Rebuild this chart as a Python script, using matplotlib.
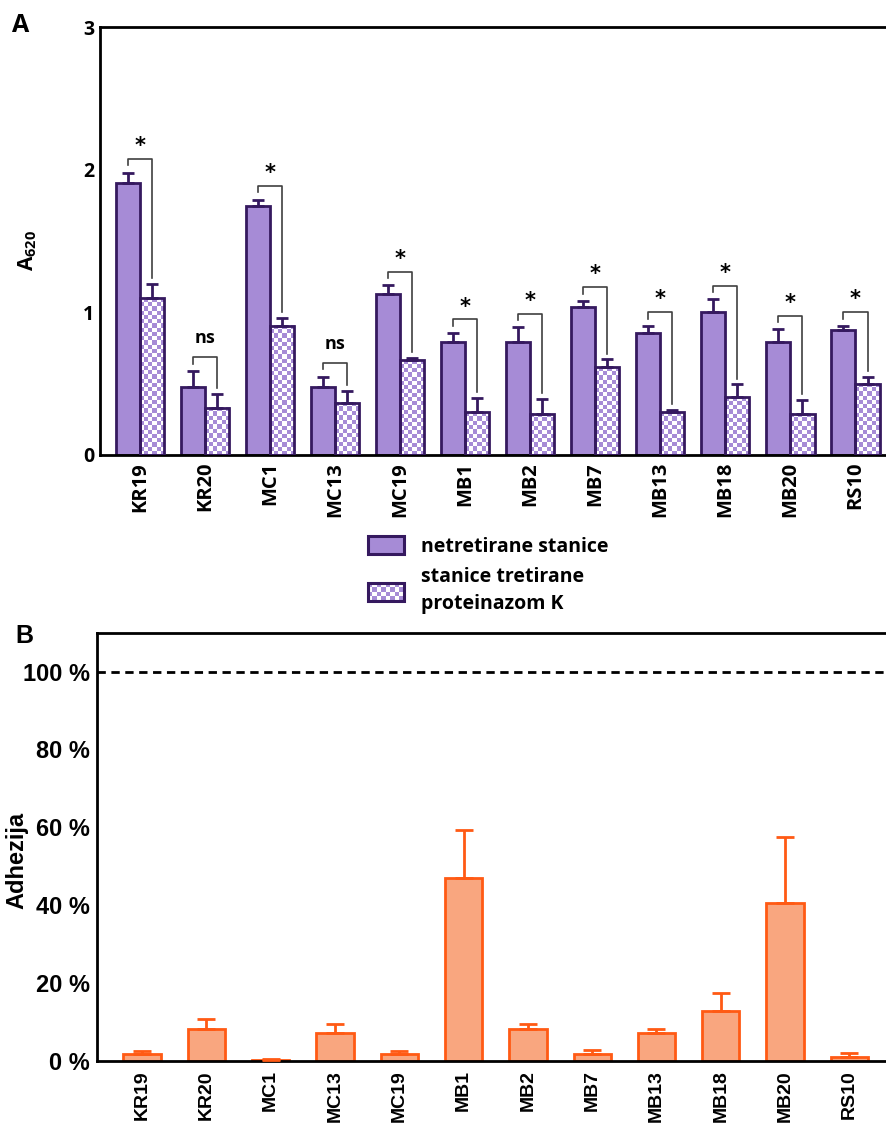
import numpy as np
import matplotlib
matplotlib.use("Agg")
import matplotlib.pyplot as plt
from matplotlib.colors import ListedColormap
from matplotlib.legend_handler import HandlerBase
from matplotlib.patches import Rectangle

# ---------------------------------------------------------------------------
# data
# ---------------------------------------------------------------------------
strains = ["KR19", "KR20", "MC1", "MC13", "MC19", "MB1", "MB2", "MB7",
           "MB13", "MB18", "MB20", "RS10"]

# panel A - A620, untreated vs. proteinase K treated cells (mean, SD)
untreated = [1.91, 0.48, 1.745, 0.475, 1.13, 0.79, 0.795, 1.035, 0.855, 1.0, 0.79, 0.875]
untreated_sd = [0.07, 0.11, 0.045, 0.075, 0.06, 0.065, 0.10, 0.045, 0.05, 0.09, 0.09, 0.03]
treated = [1.10, 0.33, 0.905, 0.365, 0.665, 0.30, 0.29, 0.615, 0.30, 0.405, 0.29, 0.50]
treated_sd = [0.10, 0.10, 0.055, 0.085, 0.015, 0.10, 0.105, 0.055, 0.015, 0.09, 0.095, 0.05]
signif = ["*", "ns", "*", "ns", "*", "*", "*", "*", "*", "*", "*", "*"]

# panel B - remaining adhesion (%)
adhesion = [1.7, 8.1, 0.3, 7.2, 1.7, 46.9, 8.1, 1.6, 7.2, 12.8, 40.5, 1.0]
adhesion_sd = [0.8, 2.6, 0.2, 2.2, 0.9, 12.3, 1.3, 1.2, 0.9, 4.5, 17.1, 1.0]

# ---------------------------------------------------------------------------
# style
# ---------------------------------------------------------------------------
PURPLE_FILL = "#a68bd6"
PURPLE_EDGE = "#35195f"
ORANGE_FILL = "#f9a67f"
ORANGE_EDGE = "#ff5a14"
BRACKET = "#404040"

SANS_A = ["Open Sans", "DejaVu Sans"]
ARIAL = ["Liberation Sans", "DejaVu Sans"]
ARIAL_NARROW = ["Liberation Sans Narrow", "Liberation Sans", "DejaVu Sans"]

plt.rcParams["font.family"] = SANS_A
plt.rcParams["mathtext.fontset"] = "custom"
plt.rcParams["mathtext.rm"] = "Open Sans:bold"
plt.rcParams["mathtext.default"] = "rm"

W, H = 886, 1128
fig = plt.figure(figsize=(W / 100, H / 100), dpi=100)


def fig_box(left, top, right, bottom):
    """pixel box -> figure fraction rect"""
    return [left / W, 1 - bottom / H, (right - left) / W, (bottom - top) / H]


checker_cmap = ListedColormap(["white", PURPLE_FILL])


class HandlerChecker(HandlerBase):
    def create_artists(self, legend, orig_handle, xdescent, ydescent,
                       width, height, fontsize, trans):
        arts = [Rectangle((-xdescent, -ydescent), width, height,
                          facecolor="white", edgecolor="none", transform=trans)]
        nx, ny = 8, 4
        cw, ch = width / nx, height / ny
        for i in range(nx):
            for j in range(ny):
                if (i + j) % 2:
                    arts.append(Rectangle((-xdescent + i * cw, -ydescent + j * ch), cw, ch,
                                          facecolor=PURPLE_FILL, edgecolor="none",
                                          transform=trans))
        arts.append(Rectangle((-xdescent, -ydescent), width, height,
                              facecolor="none", edgecolor=PURPLE_EDGE, lw=2.2,
                              transform=trans))
        return arts


# ---------------------------------------------------------------------------
# panel A
# ---------------------------------------------------------------------------
axA = fig.add_axes(fig_box(100, 27, 888, 455))
x = np.arange(len(strains))
bw = 0.37
xlimA = (-0.615, 11.5)
ylimA = (0, 3)
axA.set_xlim(*xlimA)
axA.set_ylim(*ylimA)

axA.bar(x - bw / 2, untreated, bw, color=PURPLE_FILL, edgecolor=PURPLE_EDGE,
        linewidth=2.0, zorder=2)
hatched = axA.bar(x + bw / 2, treated, bw, color="none", edgecolor=PURPLE_EDGE,
                  linewidth=2.0, zorder=3)

# checkerboard fill for the treated bars (about 4 px squares)
fig.canvas.draw()
to_px = axA.transData.transform
for rect in hatched:
    x0, w, h = rect.get_x(), rect.get_width(), rect.get_height()
    w_px = to_px((w, 0))[0] - to_px((0, 0))[0]
    h_px = to_px((0, h))[1] - to_px((0, 0))[1]
    nc = max(1, int(round(w_px / 4.2)))
    nr = max(1, int(round(h_px / 4.2)))
    board = np.add.outer(np.arange(nr), np.arange(nc)) % 2
    axA.imshow(board, cmap=checker_cmap, extent=(x0, x0 + w, 0, h),
               origin="lower", aspect="auto", interpolation="nearest", zorder=1.5)
axA.set_xlim(*xlimA)
axA.set_ylim(*ylimA)

axA.errorbar(x - bw / 2, untreated, yerr=[np.zeros(len(x)), untreated_sd], fmt="none",
             ecolor=PURPLE_EDGE, elinewidth=2.0, capsize=4, capthick=2.0, zorder=4)
axA.errorbar(x + bw / 2, treated, yerr=[np.zeros(len(x)), treated_sd], fmt="none",
             ecolor=PURPLE_EDGE, elinewidth=2.0, capsize=4, capthick=2.0, zorder=4)

# significance brackets
for i, lab in enumerate(signif):
    top_l = untreated[i] + untreated_sd[i]
    top_r = treated[i] + treated_sd[i]
    yb = max(top_l, top_r) + 0.095
    axA.plot([x[i] - bw / 2, x[i] - bw / 2, x[i] + bw / 2, x[i] + bw / 2],
             [top_l + 0.05, yb, yb, top_r + 0.04],
             color=BRACKET, lw=1.2, zorder=5)
    if lab == "*":
        axA.annotate(lab, (x[i], yb), xytext=(0, 5), textcoords="offset points",
                     ha="center", va="baseline", fontsize=15, fontweight="bold",
                     family="DejaVu Sans")
    else:
        axA.annotate(lab, (x[i], yb), xytext=(0, 10), textcoords="offset points",
                     ha="center", va="baseline", fontsize=13, fontweight="bold")

axA.set_yticks([0, 1, 2, 3], ["0", "1", "2", "3"], fontsize=14, fontweight="bold")
axA.set_xticks(x, strains, rotation=90, fontsize=14.5, fontweight="bold")
axA.tick_params(axis="y", length=0, pad=4)
axA.tick_params(axis="x", length=0, pad=5)
for s in ["left", "bottom", "top"]:
    axA.spines[s].set_linewidth(2.0)
axA.spines["right"].set_visible(False)

fig.text(28 / W, 1 - 250 / H, "A$_{620}$", rotation=90, ha="center", va="center",
         fontsize=15, fontweight="bold")
fig.text(12 / W, 1 - 26 / H, "A", ha="left", va="center", fontsize=18, fontweight="bold")

h1 = Rectangle((0, 0), 1, 1, facecolor=PURPLE_FILL, edgecolor=PURPLE_EDGE, lw=2.2)
h2 = Rectangle((0, 0), 1, 1, facecolor="white", edgecolor=PURPLE_EDGE)
leg = fig.legend([h1, h2], ["netretirane stanice", "stanice tretirane\nproteinazom K"],
                 handler_map={h2: HandlerChecker()},
                 loc="upper left", bbox_to_anchor=(368 / W, 1 - 536 / H),
                 bbox_transform=fig.transFigure, frameon=False, borderpad=0,
                 borderaxespad=0, handlelength=1.85, handleheight=1.05,
                 handletextpad=0.9, labelspacing=0.55,
                 prop={"family": SANS_A, "weight": "bold", "size": 14})
for t in leg.get_texts():
    t.set_linespacing(1.45)

# ---------------------------------------------------------------------------
# panel B
# ---------------------------------------------------------------------------
axB = fig.add_axes(fig_box(97, 632.7, 888, 1060.7))
axB.set_xlim(-0.70, 11.6)
axB.set_ylim(0, 110)
axB.bar(x, adhesion, 0.58, color=ORANGE_FILL, edgecolor=ORANGE_EDGE, linewidth=2.0, zorder=2)
axB.errorbar(x, adhesion, yerr=[np.zeros(len(x)), adhesion_sd], fmt="none",
             ecolor=ORANGE_EDGE, elinewidth=2.0, capsize=6.5, capthick=2.0, zorder=3)
axB.axhline(100, color="black", lw=2, dashes=(3, 2), zorder=1)

axB.set_yticks(np.arange(0, 101, 20), [f"{v} %" for v in range(0, 101, 20)],
               fontsize=17, fontweight="bold", family=ARIAL)
axB.set_xticks(x, strains, rotation=90, fontsize=14, fontweight="bold", family=ARIAL_NARROW)
axB.tick_params(axis="y", length=0, pad=5)
axB.tick_params(axis="x", length=0, pad=7)
for s in ["left", "bottom", "top"]:
    axB.spines[s].set_linewidth(2.0)
axB.spines["right"].set_visible(False)

fig.text(17 / W, 1 - 860 / H, "Adhezija", rotation=90, ha="center", va="center",
         fontsize=17, fontweight="bold", family=ARIAL)
fig.text(15 / W, 1 - 636 / H, "B", ha="left", va="center", fontsize=18, fontweight="bold",
         family=ARIAL)

fig.savefig("out.png", dpi=100)
